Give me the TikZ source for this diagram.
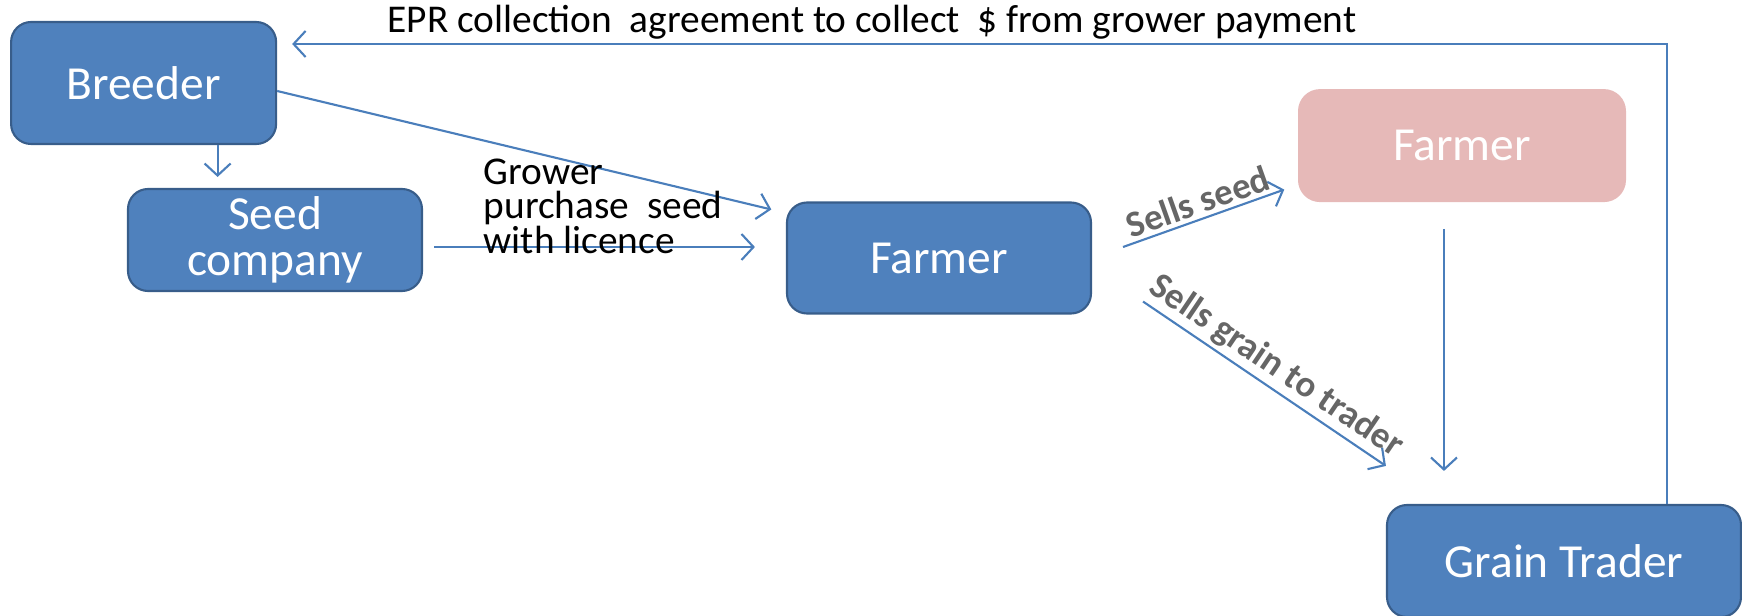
\documentclass[tikz,border=0pt]{standalone}
\usepackage{fontspec}
\setmainfont{Carlito}
\usetikzlibrary{arrows.meta,positioning}
\definecolor{boxblue}{HTML}{4F81BD}
\definecolor{boxedge}{HTML}{385D8A}
\definecolor{boxpink}{HTML}{E6B9B8}
\definecolor{linkblue}{HTML}{4A7EBB}

\begin{document}
\begin{tikzpicture}[scale=0.2]
\tikzstyle{every node}+=[inner sep=0pt]
\tikzstyle{blue box}=[draw=boxedge, line width=0.6pt, fill=boxblue, rounded corners=0.2cm, text=white, font=\fontsize{13.5}{13}\selectfont, align=center]
\tikzstyle{pink box}=[fill=boxpink, rounded corners=0.22cm, text=white, font=\fontsize{13.5}{13}\selectfont]
\tikzstyle{flow}=[draw=linkblue, line width=0.6pt, -{Straight Barb[length=0.12cm,width=0.26cm]}]
\tikzstyle{note}=[font=\fontsize{11.2}{9.8}\selectfont]
\tikzstyle{sells}=[font=\fontsize{10.5}{10}\selectfont\bfseries, text=black!60, sloped, above, inner sep=1pt]
\useasboundingbox (0,0) rectangle (87.1,-30.8);
\node (breeder) [blue box, minimum width=2.65cm, minimum height=1.22cm] at (7.18,-4.15) {Breeder};
\node (seed) [blue box, minimum width=2.94cm, minimum height=1.02cm] at (13.75,-12) {Seed\\company};
\node (farmer) [blue box, minimum width=3.04cm, minimum height=1.11cm] at (46.95,-12.9) {Farmer};
\node (buyer) [pink box, minimum width=3.28cm, minimum height=1.13cm] at (73.1,-7.28) {Farmer};
\node (trader) [blue box, minimum width=3.54cm, minimum height=1.12cm] at (78.2,-28.05) {Grain Trader};
\coordinate (epr) at (83.35,-2.2);
\draw [flow] (trader.north -| epr) -- (epr) -- ([shift={(0.75,0)}]breeder.east |- epr);
\node (eprtext) [note] at (43.6,-1.1) {EPR collection\ \ agreement to collect\ \ \$ from grower payment};
\draw [flow, shorten >=0.11cm] ([shift={(3.7,0)}]breeder.south) -- ([shift={(3.7,0)}]breeder.south |- seed.north);
\draw [flow, shorten >=0.15cm] ([shift={(0,-0.4)}]breeder.east) -- ([shift={(0,2.25)}]farmer.west);
\draw [flow, shorten <=0.11cm, shorten >=0.31cm] ([shift={(0,-0.35)}]seed.east) -- ([shift={(0,-0.35)}]seed.east -| farmer.west);
\node (grower) [note, anchor=west, align=left] at (24.15,-10.3) {Grower\\purchase\ \ seed\\with licence};
\draw [flow] ([shift={(1.55,0.55)}]farmer.east) -- node (sellseed) [sells] {Sells seed} ([shift={(-0.65,-2.2)}]buyer.west);
\draw [flow] ([shift={(2.55,0.65)}]farmer.south east) -- node (sellgrain) [sells] {Sells grain to trader} ([shift={(0,1.9)}]trader.north west);
\draw [flow, shorten <=0.26cm, shorten >=0.33cm] ([shift={(-0.9,0)}]buyer.south) -- ([shift={(-0.9,0)}]buyer.south |- trader.north);
\end{tikzpicture}
\end{document}
